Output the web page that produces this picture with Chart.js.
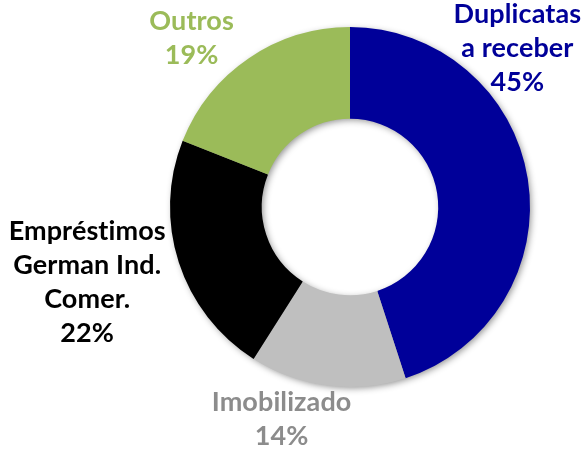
<!DOCTYPE html>
<html><head><meta charset="utf-8">
<script src="https://cdn.jsdelivr.net/npm/chart.js@4"></script>
<style>html,body{margin:0;padding:0;background:#fff}#w{width:585px;height:451px}</style>
</head><body><div id="w"><canvas id="c"></canvas></div>
<script>
const categories = ["Duplicatas a receber", "Imobilizado", "Empréstimos German Ind. Comer.", "Outros"];
const values = [45, 14, 22, 19];
const labelLines = [["Duplicatas", "a receber", "45%"], ["Imobilizado", "14%"], ["Empréstimos", "German Ind.", "Comer.", "22%"], ["Outros", "19%"]];
const sliceColors = ["#000099", "#BFBFBF", "#000000", "#9BBB59"];
const labelColors = ["#000099", "#8C8C8C", "#000000", "#9BBB59"];
// label anchor offsets relative to centre, in units of outer radius
const labelOffsets = [[0.93, -0.88], [-0.38, 1.18], [-1.46, 0.42], [-0.88, -0.94]];

const shadowPlugin = {
  id: 'ringShadow',
  beforeDatasetsDraw(chart) {
    const arc = chart.getDatasetMeta(0).data[0];
    if (!arc) return;
    const {x, y, outerRadius, innerRadius} = arc.getProps(['x','y','outerRadius','innerRadius'], true);
    const ctx = chart.ctx;
    ctx.save();
    ctx.shadowColor = 'rgba(0,0,0,0.45)';
    ctx.shadowBlur = 7;
    ctx.shadowOffsetX = 2;
    ctx.shadowOffsetY = 2;
    ctx.beginPath();
    ctx.arc(x, y, outerRadius - 1, 0, Math.PI * 2);
    ctx.arc(x, y, innerRadius + 1, Math.PI * 2, 0, true);
    ctx.closePath();
    ctx.fillStyle = '#888';
    ctx.fill();
    ctx.restore();
  }
};

const labelPlugin = {
  id: 'outLabels',
  afterDatasetsDraw(chart) {
    const meta = chart.getDatasetMeta(0);
    const ctx = chart.ctx;
    ctx.save();
    ctx.font = "bold 27px Lato, 'Open Sans', sans-serif";
    if ('letterSpacing' in ctx) ctx.letterSpacing = '0.1px';
    ctx.textAlign = 'center';
    ctx.textBaseline = 'middle';
    const lh = 34;
    meta.data.forEach((a, i) => {
      const {x, y, outerRadius} = a.getProps(['x','y','outerRadius'], true);
      const cx = x + labelOffsets[i][0] * outerRadius;
      const cy = y + labelOffsets[i][1] * outerRadius;
      const lines = labelLines[i];
      ctx.fillStyle = labelColors[i];
      lines.forEach((t, k) => {
        ctx.fillText(t, cx, cy + (k - (lines.length - 1) / 2) * lh);
      });
    });
    ctx.restore();
  }
};

new Chart(document.getElementById('c'), {
  type: 'doughnut',
  data: {
    labels: categories,
    datasets: [{ data: values, backgroundColor: sliceColors, borderWidth: 0, hoverOffset: 0 }]
  },
  options: {
    responsive: true,
    maintainAspectRatio: false,
    animation: false,
    cutout: '49%',
    layout: { padding: { top: 27, bottom: 64, left: 170, right: 55 } },
    plugins: { legend: { display: false }, tooltip: { enabled: false } }
  },
  plugins: [shadowPlugin, labelPlugin]
});
</script></body></html>
